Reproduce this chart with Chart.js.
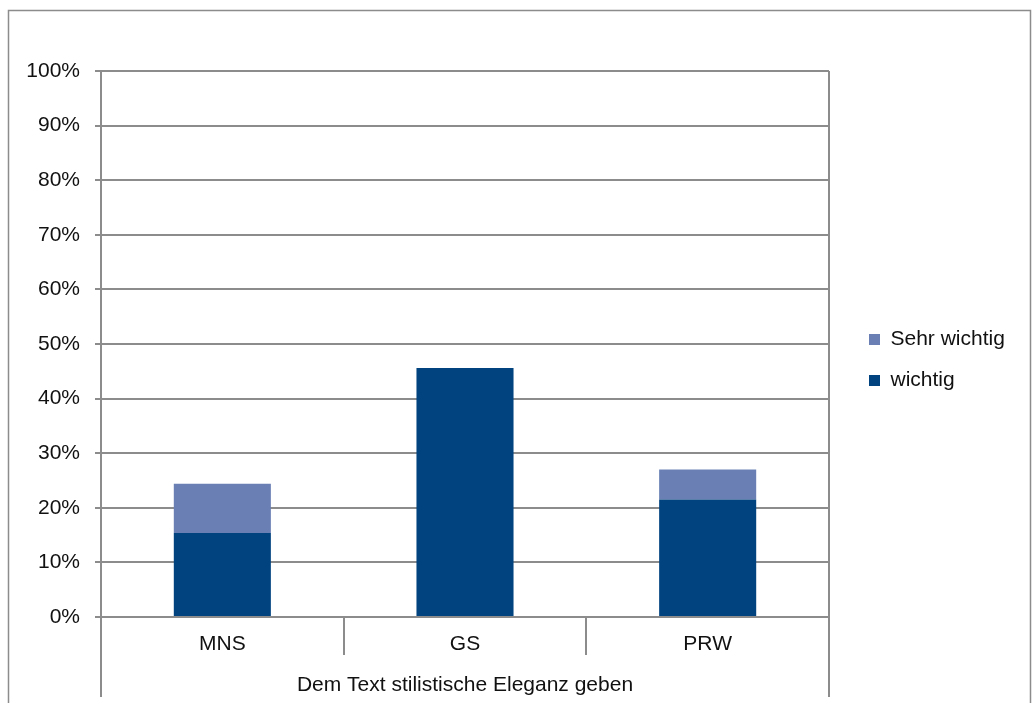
<!DOCTYPE html>
<html lang="de">

<head>
    <meta charset="utf-8">
    <script src="https://cdn.jsdelivr.net/npm/chart.js@4"></script>
    <title> Dem Text stilistische Eleganz geben </title>
    <style>
        html, body { margin: 0; padding: 0; background: #ffffff; }
        #wrap { width: 1033px; height: 703px; position: relative; }
    </style>
</head>

<body>
    <div id="wrap">
        <canvas id="chart" width="1033" height="703"></canvas>
    </div>

    <script>
        // data
        const categories = ["MNS", "GS", "PRW"];
        const groupLabel = "Dem Text stilistische Eleganz geben";
        const wichtig = [15.4, 45.6, 21.5];
        const sehrWichtig = [9.0, 0, 5.5];
        const yTicks = [0, 10, 20, 30, 40, 50, 60, 70, 80, 90, 100];

        const grey = "#8c8c8c";
        const fontFamily = "'Liberation Sans', Arial, Helvetica, sans-serif";
        const fontSize = 21;

        // frame, category dividers and group label
        const decor = {
            id: "decor",
            afterLayout(chart) {
                // legend sits a bit further right and higher than chart.js puts it
                const lg = chart.legend;
                lg.left += 20;
                lg.right += 20;
                lg.top -= 27;
                lg.bottom -= 27;
            },
            afterDraw(chart) {
                const ctx = chart.ctx;
                const area = chart.chartArea;
                const x = chart.scales.x;
                ctx.save();
                ctx.strokeStyle = grey;
                ctx.lineWidth = 1.5;
                ctx.beginPath();
                ctx.moveTo(8.5, 703);
                ctx.lineTo(8.5, 10.5);
                ctx.lineTo(1030.5, 10.5);
                ctx.lineTo(1030.5, 703);
                ctx.stroke();

                ctx.lineWidth = 2;
                ctx.beginPath();
                ctx.moveTo(area.left, area.bottom);
                ctx.lineTo(area.left, 697);
                ctx.moveTo(area.right, area.top);
                ctx.lineTo(area.right, 697);
                for (let i = 0; i < categories.length - 1; i++) {
                    const mid = (x.getPixelForTick(i) + x.getPixelForTick(i + 1)) / 2;
                    ctx.moveTo(Math.round(mid), area.bottom);
                    ctx.lineTo(Math.round(mid), 655);
                }
                ctx.stroke();

                ctx.fillStyle = "#111111";
                ctx.font = fontSize + "px " + fontFamily;
                ctx.textAlign = "center";
                ctx.textBaseline = "middle";
                ctx.fillText(groupLabel, (area.left + area.right) / 2, 685);
                ctx.restore();
            }
        };

        const chart = new Chart(document.getElementById("chart"), {
            type: "bar",
            data: {
                labels: categories,
                datasets: [
                    {
                        label: "wichtig",
                        data: wichtig,
                        backgroundColor: "#00437f",
                        categoryPercentage: 0.5,
                        barPercentage: 0.8
                    },
                    {
                        label: "Sehr wichtig",
                        data: sehrWichtig,
                        backgroundColor: "#6a80b4",
                        categoryPercentage: 0.5,
                        barPercentage: 0.8
                    }
                ]
            },
            options: {
                responsive: false,
                animation: false,
                devicePixelRatio: 1,
                layout: {
                    padding: { top: 71, right: 0, bottom: 0, left: 0 }
                },
                plugins: {
                    legend: {
                        position: "right",
                        align: "center",
                        reverse: true,
                        labels: {
                            boxWidth: 11,
                            boxHeight: 11,
                            padding: 20,
                            color: "#111111",
                            font: { family: fontFamily, size: fontSize }
                        }
                    },
                    tooltip: { enabled: false }
                },
                scales: {
                    x: {
                        stacked: true,
                        grid: { display: false, drawTicks: false },
                        border: { color: grey, width: 2 },
                        ticks: {
                            color: "#111111",
                            padding: 15,
                            font: { family: fontFamily, size: fontSize }
                        },
                        afterFit: s => { s.height = 703 - 617; }
                    },
                    y: {
                        stacked: true,
                        min: 0,
                        max: 100,
                        afterBuildTicks: s => { s.ticks = yTicks.map(v => ({ value: v })); },
                        grid: { color: grey, lineWidth: 2, tickLength: 6 },
                        border: { color: grey, width: 2 },
                        ticks: {
                            color: "#111111",
                            padding: 15,
                            font: { family: fontFamily, size: fontSize },
                            callback: v => v + "%"
                        },
                        afterFit: s => { s.width = 101; }
                    }
                }
            },
            plugins: [decor]
        });

        // keep the plot area's right edge where the reference has it
        const extra = 1033 - 829 - chart.legend.width;
        chart.options.layout.padding.right = Math.max(0, extra);
        chart.update();
    </script>
</body>

</html>
